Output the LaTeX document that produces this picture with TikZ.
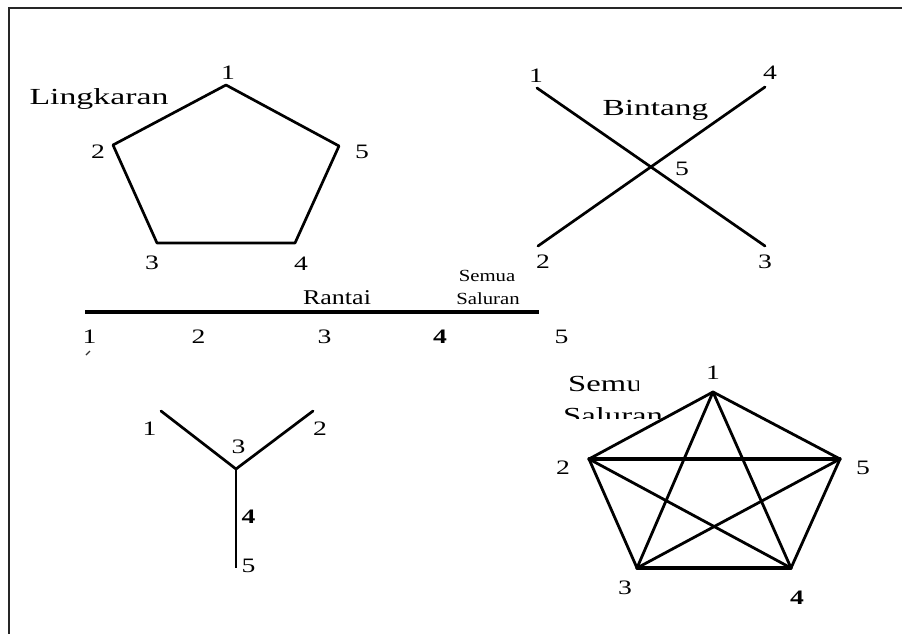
\documentclass[tikz,border=0pt]{standalone}
\usepackage{fontspec}
\setmainfont{Liberation Serif}
\usepackage{graphicx}
\newcommand{\hsq}[2]{\scalebox{#1}[1]{#2}}
\begin{document}
\begin{tikzpicture}[x=1pt,y=-1pt,
  edge/.style={line width=2.7pt, draw=black, line cap=round, line join=round},
  frame/.style={line width=2.8pt, draw=black!85},
  num/.style={anchor=base, inner sep=0pt, font=\fontsize{20.5}{24}\selectfont},
  title/.style={anchor=base, inner sep=0pt, font=\fontsize{23}{27}\selectfont},
  small/.style={anchor=base, inner sep=0pt, font=\fontsize{17}{20}\selectfont},
  mid/.style={anchor=base, inner sep=0pt, font=\fontsize{21}{24}\selectfont}
  ]
\useasboundingbox (0,0) rectangle (902,634);
\fill[white] (0,0) rectangle (902,634);
% frame
\coordinate (fa) at (9,634); \coordinate (fb) at (9,8); \coordinate (fc) at (902,8);
\draw[frame] (fa) -- (fb) -- (fc);

% ---------- Lingkaran ----------
\coordinate (L1) at (226,85);
\coordinate (L2) at (113,145);
\coordinate (L3) at (157,243);
\coordinate (L4) at (295,243);
\coordinate (L5) at (339,146);
\draw[edge] (L1)--(L2)--(L3)--(L4)--(L5)--cycle;
\node[title] (ltitle) at (99,104.5) {\hsq{1.47}{Lingkaran}};
\node[num] (L1t) at (228,79) {\hsq{1.35}{1}};
\node[num] (L2t) at (98,158.5) {\hsq{1.35}{2}};
\node[num] (L5t) at (362,158.5) {\hsq{1.35}{5}};
\node[num] (L3t) at (152,269) {\hsq{1.35}{3}};
\node[num] (L4t) at (301,270) {\hsq{1.35}{4}};

% ---------- Bintang ----------
\coordinate (B1) at (537,88);
\coordinate (B2) at (538,246);
\coordinate (B3) at (765,246);
\coordinate (B4) at (765,87);
\coordinate (B5) at (intersection of B1--B3 and B2--B4);
\draw[edge] (B1)--(B5)--(B3);
\draw[edge] (B2)--(B5)--(B4);
\node[title] (btitle) at (655.5,115) {\hsq{1.45}{Bintang}};
\node[num] (B1t) at (536,82) {\hsq{1.35}{1}};
\node[num] (B4t) at (770,80) {\hsq{1.35}{4}};
\node[num] (B5t) at (682,175) {\hsq{1.35}{5}};
\node[num] (B2t) at (543,268.5) {\hsq{1.35}{2}};
\node[num] (B3t) at (765,268.5) {\hsq{1.35}{3}};

% ---------- Rantai ----------
\coordinate (R1) at (85,312);
\coordinate (R5) at (539,312);
\draw[line width=4pt, draw=black] (R1)--(R5);
\node[mid] (rtitle) at (337,304) {\hsq{1.24}{Rantai}};
\node[small] (rsemua) at (487,281.5) {\hsq{1.22}{Semua}};
\node[small] (rsaluran) at (488,304) {\hsq{1.22}{Saluran}};
\node[num] (R1t) at (89.5,343.5) {\hsq{1.35}{1}};
\node[num] (R2t) at (198.5,343.5) {\hsq{1.35}{2}};
\node[num] (R3t) at (324.5,343.5) {\hsq{1.35}{3}};
\node[num] (R4t) at (440,343.5) {\hsq{1.35}{\bfseries 4}};
\node[num] (R5t) at (561.5,343.5) {\hsq{1.35}{5}};
\draw[line width=1.2pt, black!80] (86,355) -- (90,351);

% ---------- Y ----------
\coordinate (Y1) at (161,411);
\coordinate (Y2) at (313,411);
\coordinate (Y3) at (236,469);
\coordinate (Y5) at (236,568);
\draw[edge] (Y1)--(Y3)--(Y2);
\draw[edge, line cap=butt] (Y3)--(Y5);
\node[num] (Y1t) at (149.5,435) {\hsq{1.35}{1}};
\node[num] (Y3t) at (238.5,453.5) {\hsq{1.35}{3}};
\node[num] (Y2t) at (320,435) {\hsq{1.35}{2}};
\node[num] (Y4t) at (248.5,523.5) {\hsq{1.35}{\bfseries 4}};
\node[num] (Y5t) at (248.5,572) {\hsq{1.35}{5}};

% ---------- Semua Saluran ----------
\begin{scope}
  \clip (560,360) rectangle (638,398);
  \node[title, anchor=base west] (ktitle1) at (568,391.7) {\hsq{1.42}{Semua}};
\end{scope}
\begin{scope}
  \clip (555,400) rectangle (670,418);
  \node[title, anchor=base west] (ktitle2) at (563,423) {\hsq{1.42}{Saluran}};
\end{scope}
\coordinate (K1) at (713,392);
\coordinate (K2) at (589,459);
\coordinate (K3) at (637,568);
\coordinate (K4) at (791,568);
\coordinate (K5) at (840,459);
\foreach \a/\b in {1/2,1/3,1/4,1/5,2/3,2/4,3/5,4/5}{
  \draw[edge, line width=2.8pt] (K\a)--(K\b);
}
\draw[edge, line width=3.3pt] (K2)--(K5);
\draw[edge, line width=3.3pt] (K3)--(K4);
\node[num] (K1t) at (713,379) {\hsq{1.35}{1}};
\node[num] (K2t) at (563,474) {\hsq{1.35}{2}};
\node[num] (K5t) at (863,474) {\hsq{1.35}{5}};
\node[num] (K3t) at (625,594) {\hsq{1.35}{3}};
\node[num] (K4t) at (797,604) {\hsq{1.35}{\bfseries 4}};
\end{tikzpicture}
\end{document}
